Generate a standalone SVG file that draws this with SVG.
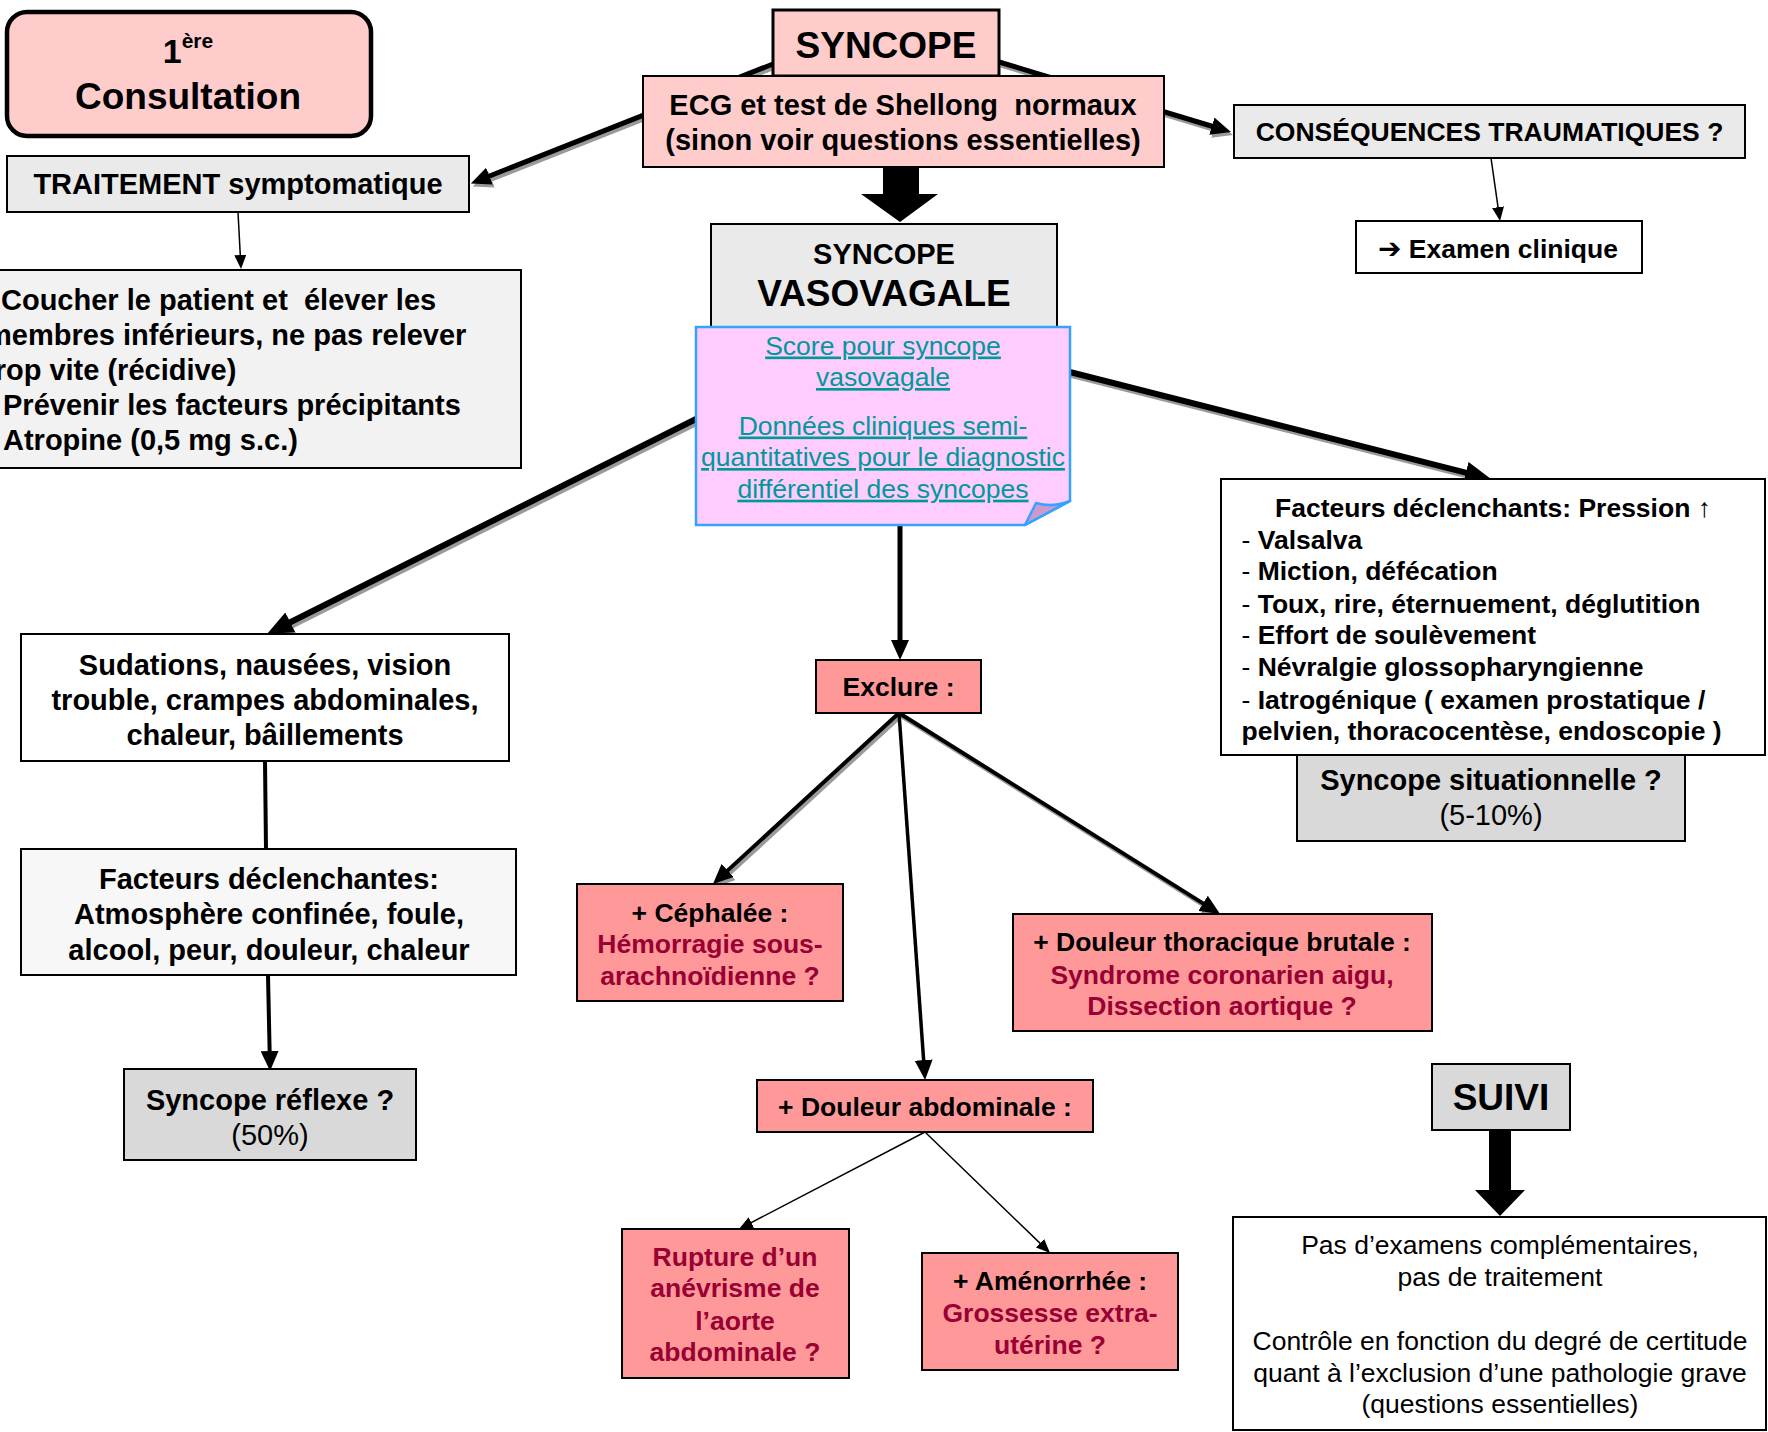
<svg xmlns="http://www.w3.org/2000/svg" width="1768" height="1432" viewBox="0 0 1768 1432">
<defs>
<style>
text{font-family:"Liberation Sans",Arial,"DejaVu Sans",sans-serif;white-space:pre;fill:#000}
.c{text-anchor:middle}
.b{font-weight:bold}
.f29{font-size:29px}
.f26{font-size:26.5px}
.f37{font-size:37px}
.red{fill:#990033}
.lnk{fill:#009999;text-decoration:underline;font-size:26.5px}
.box{stroke:#000;stroke-width:2}
.conn{fill:none;stroke:#000}
.sh{fill:none;stroke:#9a9a9a}
</style>
<marker id="ah" viewBox="0 0 20 18" refX="8" refY="9" markerWidth="20" markerHeight="18" orient="auto" markerUnits="userSpaceOnUse"><path d="M0,0 L20,9 L0,18 Z" fill="#000"/></marker>
<marker id="ahs" viewBox="0 0 20 18" refX="8" refY="9" markerWidth="20" markerHeight="18" orient="auto" markerUnits="userSpaceOnUse"><path d="M0,0 L20,9 L0,18 Z" fill="#9a9a9a"/></marker>
<marker id="ahL" viewBox="0 0 26 22" refX="10" refY="11" markerWidth="26" markerHeight="22" orient="auto" markerUnits="userSpaceOnUse"><path d="M0,0 L26,11 L0,22 Z" fill="#000"/></marker>
<marker id="ahLs" viewBox="0 0 26 22" refX="10" refY="11" markerWidth="26" markerHeight="22" orient="auto" markerUnits="userSpaceOnUse"><path d="M0,0 L26,11 L0,22 Z" fill="#9a9a9a"/></marker>
<marker id="aht" viewBox="0 0 14 12" refX="6" refY="6" markerWidth="14" markerHeight="12" orient="auto" markerUnits="userSpaceOnUse"><path d="M0,0 L14,6 L0,12 Z" fill="#000"/></marker>
</defs>
<rect width="1768" height="1432" fill="#fff"/>

<g id="connectors">
  <g transform="translate(2,3)">
    <line class="sh" x1="773" y1="64" x2="482" y2="179" stroke-width="5" marker-end="url(#ahs)"/>
    <line class="sh" x1="999" y1="62" x2="1219.5" y2="128.5" stroke-width="5" marker-end="url(#ahs)"/>
    <line class="sh" x1="700" y1="417" x2="281.3" y2="626.8" stroke-width="6" marker-end="url(#ahLs)"/>
    <line class="sh" x1="1060" y1="369.5" x2="1475.5" y2="475.1" stroke-width="6" marker-end="url(#ahLs)"/>
    <line class="sh" x1="899" y1="713" x2="721.8" y2="875.9" stroke-width="4" marker-end="url(#ahs)"/>
    <line class="sh" x1="899" y1="713" x2="1209.8" y2="907.6" stroke-width="4" marker-end="url(#ahs)"/>
  </g>
  <line class="conn" x1="773" y1="64" x2="482" y2="179" stroke-width="5" marker-end="url(#ah)"/>
  <line class="conn" x1="999" y1="62" x2="1219.5" y2="128.5" stroke-width="5" marker-end="url(#ah)"/>
  <line class="conn" x1="700" y1="417" x2="281.3" y2="626.8" stroke-width="6" marker-end="url(#ahL)"/>
  <line class="conn" x1="1060" y1="369.5" x2="1475.5" y2="475.1" stroke-width="6" marker-end="url(#ahL)"/>
  <line class="conn" x1="900" y1="525" x2="900" y2="648" stroke-width="5" marker-end="url(#ah)"/>
  <line class="conn" x1="899" y1="713" x2="721.8" y2="875.9" stroke-width="4" marker-end="url(#ah)"/>
  <line class="conn" x1="899" y1="713" x2="924.2" y2="1068" stroke-width="3.5" marker-end="url(#ah)"/>
  <line class="conn" x1="899" y1="713" x2="1209.8" y2="907.6" stroke-width="4" marker-end="url(#ah)"/>
  <line class="conn" x1="238" y1="212" x2="240.6" y2="261" stroke-width="1.5" marker-end="url(#aht)"/>
  <line class="conn" x1="1491" y1="158" x2="1498.9" y2="213.1" stroke-width="1.5" marker-end="url(#aht)"/>
  <line class="conn" x1="925" y1="1132" x2="746.1" y2="1225.3" stroke-width="1.5" marker-end="url(#aht)"/>
  <line class="conn" x1="925" y1="1132" x2="1044.3" y2="1247.4" stroke-width="1.5" marker-end="url(#aht)"/>
  <line class="conn" x1="265" y1="761" x2="266" y2="849" stroke-width="4"/>
  <line class="conn" x1="268" y1="975" x2="269.8" y2="1059" stroke-width="4" marker-end="url(#ah)"/>
  <polygon points="883,167 919,167 919,194 938,194 900,222 861,194 883,194" fill="#000"/>
  <polygon points="1489,1130 1511,1130 1511,1190 1525,1190 1500,1216 1475,1190 1489,1190" fill="#000"/>
</g>

<g id="consultation">
  <rect x="7" y="12" width="364" height="124" rx="20" fill="#ffcccc" stroke="#000" stroke-width="4.5"/>
  <text x="188" y="63" class="b c"><tspan font-size="34">1</tspan><tspan font-size="21" dy="-15">ère</tspan></text>
  <text x="188" y="109" class="b c" font-size="37">Consultation</text>
</g>

<g id="traitement">
  <rect x="7" y="156" width="462" height="56" fill="#eaeaea" class="box"/>
  <text x="238" y="194" class="b c f29">TRAITEMENT symptomatique</text>
</g>

<g id="coucher">
  <rect x="-2" y="270" width="523" height="198" fill="#f2f2f2" class="box"/>
  <text x="1" y="310" class="b f29">Coucher le patient et  élever les</text>
  <text x="-14" y="345" class="b f29">membres inférieurs, ne pas relever</text>
  <text x="-15" y="380" class="b f29">trop vite (récidive)</text>
  <text x="3" y="415" class="b f29">Prévenir les facteurs précipitants</text>
  <text x="3" y="450" class="b f29">Atropine (0,5 mg s.c.)</text>
</g>

<g id="syncope">
  <rect x="773" y="10" width="226" height="66" fill="#ffcccc" stroke="#000" stroke-width="3"/>
  <text x="886" y="58" class="b c f37">SYNCOPE</text>
</g>

<g id="ecg">
  <rect x="643" y="76" width="521" height="91" fill="#ffcccc" class="box"/>
  <text x="903" y="115" class="b c f29">ECG et test de Shellong  normaux</text>
  <text x="903" y="150" class="b c f29">(sinon voir questions essentielles)</text>
</g>

<g id="consequences">
  <rect x="1234" y="105" width="511" height="53" fill="#eaeaea" class="box"/>
  <text x="1489.5" y="141" class="b c f26">CONSÉQUENCES TRAUMATIQUES ?</text>
</g>

<g id="examen">
  <rect x="1356" y="221" width="286" height="52" fill="#fff" class="box"/>
  <text x="1498" y="257.5" class="b c f26"><tspan font-family="DejaVu Sans" font-size="28">➔</tspan> Examen clinique</text>
</g>

<g id="vasovagale">
  <rect x="711" y="224" width="346" height="104" fill="#eaeaea" class="box"/>
  <text x="884" y="264" class="b c f29">SYNCOPE</text>
  <text x="884" y="306" class="b c f37">VASOVAGALE</text>
</g>

<g id="liens">
  <path d="M696,327 H1070 V501 L1025,525 H696 Z" fill="#ffccff" stroke="#33a3ff" stroke-width="2.5"/>
  <path d="M1070,501 L1025,525 L1036,503 Q1052,508 1070,501 Z" fill="#cc99cc" stroke="#33a3ff" stroke-width="2.5" stroke-linejoin="round"/>
  <text x="883" y="354.5" class="lnk c">Score pour syncope</text>
  <text x="883" y="386" class="lnk c">vasovagale</text>
  <text x="883" y="434.5" class="lnk c">Données cliniques semi-</text>
  <text x="883" y="466" class="lnk c">quantitatives pour le diagnostic</text>
  <text x="883" y="497.7" class="lnk c">différentiel des syncopes</text>
</g>

<g id="sudations">
  <rect x="21" y="634" width="488" height="127" fill="#fff" class="box"/>
  <text x="265" y="674.5" class="b c f29">Sudations, nausées, vision</text>
  <text x="265" y="709.5" class="b c f29">trouble, crampes abdominales,</text>
  <text x="265" y="744.5" class="b c f29">chaleur, bâillements</text>
</g>

<g id="facteurs-declenchantes">
  <rect x="21" y="849" width="495" height="126" fill="#f7f7f7" class="box"/>
  <text x="269" y="889" class="b c f29">Facteurs déclenchantes:</text>
  <text x="269" y="924" class="b c f29">Atmosphère confinée, foule,</text>
  <text x="269" y="960" class="b c f29">alcool, peur, douleur, chaleur</text>
</g>

<g id="reflexe">
  <rect x="124" y="1069" width="292" height="91" fill="#d9d9d9" class="box"/>
  <text x="270" y="1110" class="b c f29">Syncope réflexe ?</text>
  <text x="270" y="1145" class="c f29">(50%)</text>
</g>

<g id="exclure">
  <rect x="816" y="660" width="165" height="53" fill="#ff9999" class="box"/>
  <text x="898.5" y="696" class="b c f26">Exclure :</text>
</g>

<g id="cephalee">
  <rect x="577" y="884" width="266" height="117" fill="#ff9999" class="box"/>
  <text x="710" y="922" class="b c f26">+ Céphalée :</text>
  <text x="710" y="953" class="b c f26 red">Hémorragie sous-</text>
  <text x="710" y="985" class="b c f26 red">arachnoïdienne ?</text>
</g>

<g id="thoracique">
  <rect x="1013" y="914" width="419" height="117" fill="#ff9999" class="box"/>
  <text x="1222" y="951" class="b c f26">+ Douleur thoracique brutale :</text>
  <text x="1222" y="984" class="b c f26 red">Syndrome coronarien aigu,</text>
  <text x="1222" y="1015" class="b c f26 red">Dissection aortique ?</text>
</g>

<g id="abdominale">
  <rect x="757" y="1080" width="336" height="52" fill="#ff9999" class="box"/>
  <text x="925" y="1116" class="b c f26">+ Douleur abdominale :</text>
</g>

<g id="rupture">
  <rect x="622" y="1229" width="227" height="149" fill="#ff9999" class="box"/>
  <text x="735" y="1266" class="b c f26 red">Rupture d’un</text>
  <text x="735" y="1297" class="b c f26 red">anévrisme de</text>
  <text x="735" y="1330" class="b c f26 red">l’aorte</text>
  <text x="735" y="1361" class="b c f26 red">abdominale ?</text>
</g>

<g id="amenorrhee">
  <rect x="922" y="1253" width="256" height="117" fill="#ff9999" class="box"/>
  <text x="1050" y="1290" class="b c f26">+ Aménorrhée :</text>
  <text x="1050" y="1322" class="b c f26 red">Grossesse extra-</text>
  <text x="1050" y="1354" class="b c f26 red">utérine ?</text>
</g>

<g id="pression">
  <rect x="1221" y="479" width="544" height="276" fill="#fff" class="box"/>
  <text x="1493" y="517" class="b c f26">Facteurs déclenchants: Pression <tspan font-weight="normal">↑</tspan></text>
  <text x="1241.5" y="548.5" class="f26">- <tspan class="b">Valsalva</tspan></text>
  <text x="1241.5" y="580" class="f26">- <tspan class="b">Miction, défécation</tspan></text>
  <text x="1241.5" y="612.7" class="f26">- <tspan class="b">Toux, rire, éternuement, déglutition</tspan></text>
  <text x="1241.5" y="644.3" class="f26">- <tspan class="b">Effort de soulèvement</tspan></text>
  <text x="1241.5" y="676" class="f26">- <tspan class="b">Névralgie glossopharyngienne</tspan></text>
  <text x="1241.5" y="708.6" class="f26">- <tspan class="b">Iatrogénique ( examen prostatique /</tspan></text>
  <text x="1241.5" y="740.2" class="b f26">pelvien, thoracocentèse, endoscopie )</text>
</g>

<g id="situationnelle">
  <rect x="1297" y="755" width="388" height="86" fill="#d9d9d9" class="box"/>
  <text x="1491" y="789.5" class="b c f29">Syncope situationnelle ?</text>
  <text x="1491" y="824.5" class="c f29">(5-10%)</text>
</g>

<g id="suivi">
  <rect x="1432" y="1064" width="138" height="66" fill="#d9d9d9" class="box"/>
  <text x="1501" y="1110" class="b c f37">SUIVI</text>
</g>

<g id="suivi-texte">
  <rect x="1233" y="1217" width="533" height="213" fill="#fff" class="box"/>
  <text x="1500" y="1254" class="c f26">Pas d’examens complémentaires,</text>
  <text x="1500" y="1286" class="c f26">pas de traitement</text>
  <text x="1500" y="1350" class="c f26">Contrôle en fonction du degré de certitude</text>
  <text x="1500" y="1382" class="c f26">quant à l’exclusion d’une pathologie grave</text>
  <text x="1500" y="1413" class="c f26">(questions essentielles)</text>
</g>
</svg>
